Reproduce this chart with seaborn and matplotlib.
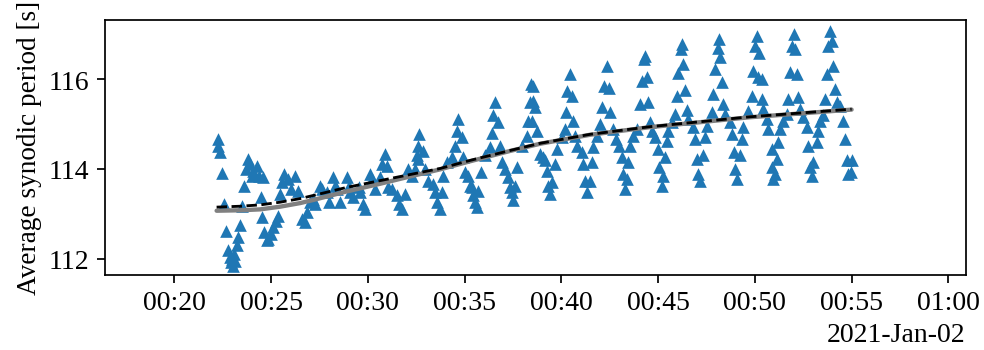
import matplotlib
matplotlib.use("Agg")
import matplotlib.pyplot as plt
import matplotlib.dates as mdates
import numpy as np
import pandas as pd
import seaborn as sns

# Observation day and measured average synodic periods (seconds after midnight, seconds)
day = "2021-01-02"

t_sec = [
    1335, 1336, 1342, 1349, 1355, 1359, 1366, 1373, 1376, 1378, 1383, 1386, 1388, 1393, 1398,
    1404, 1411, 1415, 1422, 1428, 1436, 1440, 1445, 1456, 1463, 1469, 1473, 1476, 1479, 1487,
    1491, 1500, 1507, 1514, 1521, 1528, 1533, 1540, 1553, 1562, 1574, 1584, 1595, 1605, 1611,
    1621, 1631, 1636, 1652, 1657, 1673, 1678, 1693, 1697, 1704, 1714, 1735, 1740, 1745, 1755,
    1771, 1776, 1786, 1791, 1807, 1812, 1822, 1838, 1843, 1853, 1859, 1864, 1874, 1890, 1898,
    1905, 1915, 1926, 1936, 1946, 1952, 1955, 1957, 1960, 1972, 1977, 1988, 2003, 2008, 2014,
    2024, 2029, 2034, 2045, 2060, 2070, 2076, 2081, 2091, 2096, 2101, 2112, 2117, 2124, 2127,
    2132, 2138, 2143, 2151, 2163, 2179, 2184, 2189, 2194, 2205, 2210, 2217, 2225, 2236, 2241,
    2246, 2251, 2256, 2262, 2277, 2293, 2298, 2303, 2306, 2308, 2311, 2313, 2318, 2324, 2334,
    2344, 2350, 2355, 2360, 2365, 2370, 2380, 2386, 2401, 2411, 2415, 2419, 2427, 2432, 2437,
    2443, 2448, 2463, 2468, 2474, 2479, 2489, 2494, 2499, 2510, 2520, 2525, 2532, 2541, 2549,
    2551, 2559, 2570, 2580, 2587, 2590, 2598, 2603, 2608, 2613, 2623, 2636, 2644, 2649, 2656,
    2660, 2665, 2670, 2675, 2680, 2691, 2701, 2703, 2711, 2716, 2722, 2727, 2732, 2742, 2753,
    2758, 2763, 2771, 2773, 2778, 2784, 2789, 2794, 2809, 2815, 2820, 2825, 2830, 2840, 2846,
    2851, 2866, 2871, 2877, 2885, 2889, 2892, 2897, 2902, 2908, 2923, 2928, 2934, 2939, 2944,
    2954, 2959, 2964, 2980, 2990, 2995, 3001, 3006, 3011, 3014, 3021, 3022, 3026, 3037, 3042,
    3052, 3054, 3057, 3063, 3068, 3073, 3078, 3088, 3099, 3104, 3109, 3114, 3120, 3125, 3130,
    3135, 3140, 3150, 3161, 3166, 3171, 3176, 3181, 3192, 3197, 3202, 3212, 3217, 3223, 3228,
    3233, 3238, 3243, 3248, 3254, 3264, 3274, 3280, 3285, 3290, 3299, 3300,
]

period_s = [
    114.67, 114.52, 114.37, 113.90, 113.22, 112.62, 112.20, 112.04, 111.93, 112.00, 111.85, 112.11, 111.96, 112.30, 112.48,
    112.76, 113.17, 113.61, 114.00, 114.22, 114.11, 113.85, 113.96, 114.07, 113.85, 113.37, 112.93, 113.81, 112.59, 112.41,
    112.44, 112.56, 112.70, 112.85, 112.96, 113.44, 113.70, 113.89, 113.78, 113.56, 113.85, 113.52, 112.89, 112.81, 113.04,
    113.26, 113.33, 113.22, 113.63, 113.56, 113.48, 113.26, 113.81, 113.63, 113.56, 113.26, 113.81, 113.63, 113.48, 113.37,
    113.59, 113.48, 113.22, 113.11, 113.89, 113.78, 113.56, 113.81, 114.11, 114.33, 114.07, 113.59, 113.56, 113.41, 113.22,
    113.11, 113.44, 114.00, 113.85, 114.00, 114.30, 114.22, 114.52, 114.78, 114.41, 114.00, 113.74, 113.67, 113.48, 113.26,
    113.11, 113.48, 113.85, 114.15, 114.26, 114.52, 114.85, 115.11, 114.70, 114.26, 113.93, 113.85, 113.63, 113.59, 113.41,
    113.26, 113.15, 113.52, 113.93, 114.30, 114.48, 114.81, 115.19, 115.48, 115.04, 114.52, 114.15, 114.00, 113.81, 113.59,
    113.48, 113.30, 113.63, 114.04, 114.52, 114.74, 115.07, 115.48, 115.89, 115.07, 115.52, 115.85, 115.37, 114.85, 114.33,
    114.26, 114.19, 113.96, 113.63, 113.44, 113.70, 114.11, 114.44, 114.70, 114.89, 115.26, 115.74, 116.11, 115.63, 115.07,
    114.74, 114.52, 114.37, 114.11, 113.74, 113.48, 113.74, 114.15, 114.48, 114.74, 115.00, 115.37, 115.85, 116.30, 115.81,
    115.26, 114.89, 114.67, 114.52, 114.26, 113.89, 113.56, 113.78, 114.15, 114.52, 114.74, 114.89, 115.44, 115.96, 116.44,
    116.52, 116.04, 115.48, 115.04, 114.85, 114.70, 114.44, 114.04, 113.63, 113.85, 114.26, 114.63, 114.85, 115.04, 115.22,
    115.63, 116.13, 116.67, 116.78, 116.33, 115.76, 115.31, 115.11, 114.93, 114.67, 114.22, 113.89, 113.74, 114.30, 114.70,
    114.96, 115.26, 115.67, 116.22, 116.70, 116.89, 116.48, 115.93, 115.44, 115.22, 115.04, 114.78, 114.37, 114.00, 113.78,
    114.30, 114.67, 114.93, 115.30, 115.63, 116.19, 116.74, 116.96, 116.04, 116.59, 116.00, 115.56, 115.33, 115.11, 114.89,
    114.44, 114.04, 113.78, 113.89, 114.22, 114.59, 114.89, 115.07, 115.22, 115.56, 116.15, 116.74, 117.00, 116.67, 116.11,
    115.59, 115.33, 115.15, 114.93, 114.52, 114.04, 113.85, 114.15, 114.59, 114.85, 115.07, 115.19, 115.56, 116.11, 116.74,
    117.07, 116.85, 116.30, 115.78, 115.48, 115.41, 115.07, 114.67, 114.19, 113.89, 113.93, 114.19,
]

# Smoothed trend (solid grey) and model curve (dashed black)
trend_t_sec = [1331, 1404, 1466, 1528, 1590, 1631, 1735, 1838, 1941, 2024, 2117, 2241, 2334, 2489, 2675, 2985, 3300]
trend_smooth = [113.07, 113.08, 113.10, 113.16, 113.24, 113.31, 113.50, 113.67, 113.85, 113.99, 114.17, 114.40, 114.56, 114.76, 114.93, 115.15, 115.32]
trend_model = [113.15, 113.17, 113.20, 113.26, 113.34, 113.41, 113.59, 113.74, 113.89, 114.01, 114.19, 114.41, 114.57, 114.77, 114.94, 115.16, 115.33]

ylabel = "Average synodic period [s]"

t0 = pd.Timestamp(day)
times = t0 + pd.to_timedelta(t_sec, unit="s")
trend_times = t0 + pd.to_timedelta(trend_t_sec, unit="s")

sns.set_theme(style="ticks")
plt.rcParams.update({
    "font.family": ["Liberation Serif", "DejaVu Serif"],
    "font.size": 12.8,
    "axes.labelsize": 12.6,
    "xtick.labelsize": 12.8,
    "ytick.labelsize": 12.8,
    "axes.edgecolor": "black",
    "axes.linewidth": 0.8,
    "xtick.color": "black",
    "ytick.color": "black",
    "text.color": "black",
    "axes.labelcolor": "black",
    "xtick.major.size": 3.5,
    "ytick.major.size": 3.5,
    "xtick.major.width": 0.8,
    "ytick.major.width": 0.8,
})

fig = plt.figure(figsize=(6.3, 2.247), dpi=156.2)
ax = fig.add_axes([0.1064, 0.2137, 0.875, 0.7273])

sns.scatterplot(x=times, y=period_s, marker="^", s=34, color="#1f77b4",
                linewidth=0, ax=ax, zorder=2)
sns.lineplot(x=trend_times, y=trend_smooth, color="grey", linewidth=2.0, ax=ax, zorder=3)
sns.lineplot(x=trend_times, y=trend_model, color="black", linewidth=1.3,
             linestyle="--", ax=ax, zorder=4)

locator = mdates.MinuteLocator(byminute=range(0, 60, 5))
ax.xaxis.set_major_locator(locator)
ax.xaxis.set_major_formatter(mdates.ConciseDateFormatter(locator))

ax.set_xlim(t0 + pd.Timedelta(seconds=984), t0 + pd.Timedelta(seconds=3654))
ax.set_ylim(111.64, 117.32)
ax.set_yticks([112, 114, 116])
ax.set_xlabel("")
ax.set_ylabel(ylabel, labelpad=3)
for side in ["top", "right"]:
    ax.spines[side].set_visible(True)

fig.savefig("out.png", dpi=156.2)
